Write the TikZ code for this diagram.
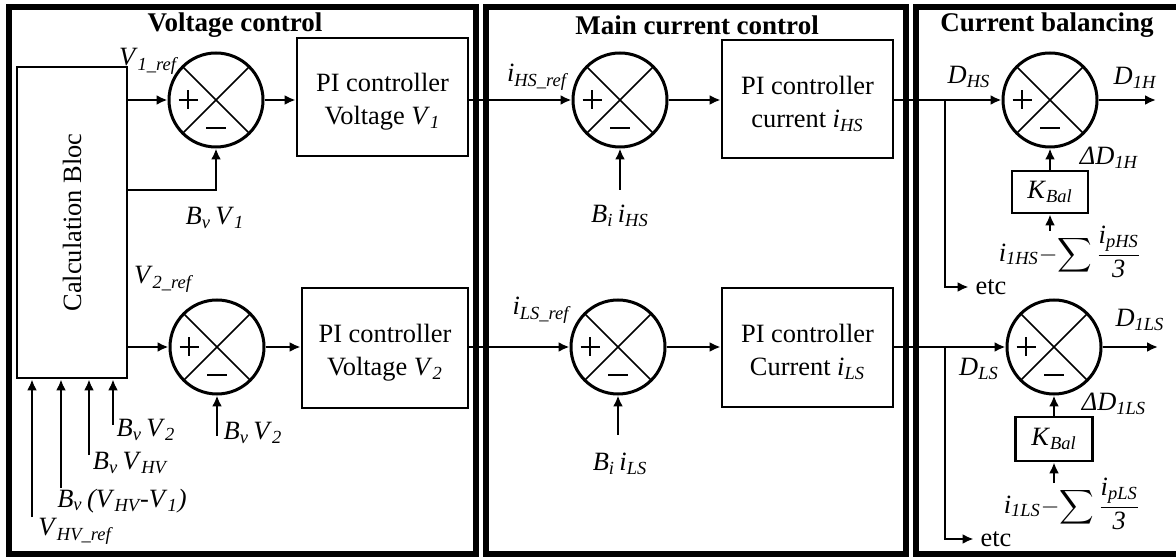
\documentclass[tikz,border=0pt]{standalone}
\usepackage{fontspec}
\setmainfont{Liberation Serif}
\usepackage{xcolor}
\usepackage{amsmath}
\usepackage{tikz}
\usetikzlibrary{arrows.meta}
\newcommand{\lsub}[1]{\textsubscript{\itshape #1}}

\begin{document}
\begin{tikzpicture}[x=0.5pt, y=-0.5pt, font=\fontsize{13.2}{16.5}\selectfont]
    % Define styles
    \tikzstyle{panel} = [draw=black, line width=3pt]
    \tikzstyle{block} = [rectangle, draw=black, line width=1.4pt, text centered, align=center, inner sep=0pt]
    \tikzstyle{sumjunc} = [circle, draw=black, line width=1.5pt, minimum size=47pt, inner sep=0pt,
        path picture={
            \draw [line width=0.8pt] (path picture bounding box.north west) -- (path picture bounding box.south east)
                (path picture bounding box.north east) -- (path picture bounding box.south west);
            \draw [line width=1.4pt] ([xshift=-18.75pt]path picture bounding box.center) -- ([xshift=-9.25pt]path picture bounding box.center)
                ([xshift=-14pt,yshift=4.75pt]path picture bounding box.center) -- ([xshift=-14pt,yshift=-4.75pt]path picture bounding box.center)
                ([xshift=-5pt,yshift=-14pt]path picture bounding box.center) -- ([xshift=5pt,yshift=-14pt]path picture bounding box.center);
        }]
    \tikzstyle{arrow} = [line width=1.2pt, -{Latex[length=5.5pt, width=5pt]}]
    \tikzstyle{title} = [font=\fontsize{13.5}{16}\selectfont\bfseries]

    \useasboundingbox (0,0) rectangle (1176,560);

    % Panels
    \draw [panel] (9,7) rectangle (476,554);
    \draw [panel] (486,7) rectangle (906,554);
    \draw [panel] (1176,7) -- (916,7) -- (916,554) -- (1176,554);
    \node [title] at (235,25) {Voltage control};
    \node [title] at (697,25) {Main current control};
    \node [title] at (1047,25) {Current balancing};

    % Nodes
    \node [block, minimum width=55pt, minimum height=155.5pt] (calc) at (72,222.5) {};
    \node [rotate=90] at (calc.center) {Calculation Bloc};
    \node [sumjunc] (sumA) at (216,100) {};
    \node [block, minimum width=85.5pt, minimum height=59pt] (piA) at (382.5,97) {\rule{0pt}{14pt}PI controller\\Voltage \textit{V}\lsub{1}};
    \node [sumjunc] (sumB) at (217,347) {};
    \node [block, minimum width=83pt, minimum height=60pt] (piB) at (385,348) {\rule{0pt}{14pt}PI controller\\Voltage \textit{V}\lsub{2}};
    \node [sumjunc] (sumC) at (620,100) {};
    \node [block, minimum width=85.5pt, minimum height=59pt] (piC) at (807.5,99) {\rule{0pt}{14pt}PI controller\\current \textit{i}\lsub{HS}};
    \node [sumjunc] (sumD) at (618,347) {};
    \node [block, minimum width=85.5pt, minimum height=59.5pt] (piD) at (807.5,347.5) {\rule{0pt}{14pt}PI controller\\Current \textit{i}\lsub{LS}};
    \node [sumjunc] (sumE) at (1050,100) {};
    \node [block, minimum width=38pt, minimum height=21pt] (balA) at (1050,192) {\textit{K}\lsub{Bal}};
    \node [sumjunc] (sumF) at (1054,347) {};
    \node [block, minimum width=38.5pt, minimum height=22pt] (balB) at (1054,439) {\textit{K}\lsub{Bal}};
    \node (errA) at (1070,252) {\textit{i}\lsub{1HS}$\displaystyle-\!\sum\frac{\mbox{\textit{i}\lsub{pHS}}}{\mbox{\textit{3}}}$};
    \node (errB) at (1072,504) {\textit{i}\lsub{1LS}$\displaystyle-\!\sum\frac{\mbox{\textit{i}\lsub{pLS}}}{\mbox{\textit{3}}}$};
    \node (etcA) at (991,287) {etc};
    \node (etcB) at (996,539) {etc};

    % Labels
    \node at (148,61) {\textit{V}\lsub{1\_ref}};
    \node at (215,218) {\textit{B}\lsub{v}\,\textit{V}\lsub{1}};
    \node at (163,279) {\textit{V}\lsub{2\_ref}};
    \node at (253,433) {\textit{B}\lsub{v}\,\textit{V}\lsub{2}};
    \node at (146,430) {\textit{B}\lsub{v}\,\textit{V}\lsub{2}};
    \node at (130,463) {\textit{B}\lsub{v}\,\textit{V}\lsub{HV}};
    \node at (122,501) {\textit{B}\lsub{v}\,\textit{(V}\lsub{HV}\textit{-V}\lsub{1}\textit{)}};
    \node at (75,531) {\textit{V}\lsub{HV\_ref}};
    \node at (537,77) {\textit{i}\lsub{HS\_ref}};
    \node at (620,216) {\textit{B}\lsub{i}\,\textit{i}\lsub{HS}};
    \node at (541,310) {\textit{i}\lsub{LS\_ref}};
    \node at (620,464) {\textit{B}\lsub{i}\,\textit{i}\lsub{LS}};
    \node at (969,77) {\textit{D}\lsub{HS}};
    \node at (1135,78) {\textit{D}\lsub{1H}};
    \node at (1109,158) {\textit{ΔD}\lsub{1H}};
    \node at (1140,320) {\textit{D}\lsub{1LS}};
    \node at (979,369) {\textit{D}\lsub{LS}};
    \node at (1114,404) {\textit{ΔD}\lsub{1LS}};

    % Free ends
    \coordinate (fbA) at (216,190);
    \coordinate (fbB) at (217,436);
    \coordinate (fbC) at (620,190);
    \coordinate (fbD) at (618,435);
    \coordinate (inKA) at (1050,231);
    \coordinate (inKB) at (1054,483);
    \coordinate (brA) at (945,100);
    \coordinate (brB) at (945,347);
    \coordinate (outA) at (1156,100);
    \coordinate (outB) at (1158,347);

    % Arrows
    \draw [arrow] (calc.east |- sumA.west) -- (sumA.west);
    \draw [arrow] (calc.east |- fbA) -- (fbA) -- (sumA.south);
    \draw [arrow] (sumA.east) -- (sumA.east -| piA.west);
    \draw [arrow] (calc.east |- sumB.west) -- (sumB.west);
    \draw [arrow] (fbB) -- (sumB.south);
    \draw [arrow] (sumB.east) -- (sumB.east -| piB.west);
    \foreach \x/\y [count=\i] in {32/517, 61/488, 89/455, 113/425} {
        \coordinate (in\i) at (\x,\y);
        \draw [arrow] (in\i) -- (in\i |- calc.south);
    }
    \draw [arrow] (piA.east |- sumC.west) -- (sumC.west);
    \draw [arrow] (fbC) -- (sumC.south);
    \draw [arrow] (sumC.east) -- (sumC.east -| piC.west);
    \draw [arrow] (piB.east |- sumD.west) -- (sumD.west);
    \draw [arrow] (fbD) -- (sumD.south);
    \draw [arrow] (sumD.east) -- (sumD.east -| piD.west);
    \draw [arrow] (piC.east |- sumE.west) -- (sumE.west);
    \draw [arrow] (brA) |- (etcA.west);
    \draw [arrow] (sumE.east) -- (outA);
    \draw [arrow] (balA.north) -- (sumE.south);
    \draw [arrow] (inKA) -- (balA.south);
    \draw [arrow] (piD.east |- sumF.west) -- (sumF.west);
    \draw [arrow] (brB) |- (etcB.west);
    \draw [arrow] (sumF.east) -- (outB);
    \draw [arrow] (balB.north) -- (sumF.south);
    \draw [arrow] (inKB) -- (balB.south);
\end{tikzpicture}
\end{document}
